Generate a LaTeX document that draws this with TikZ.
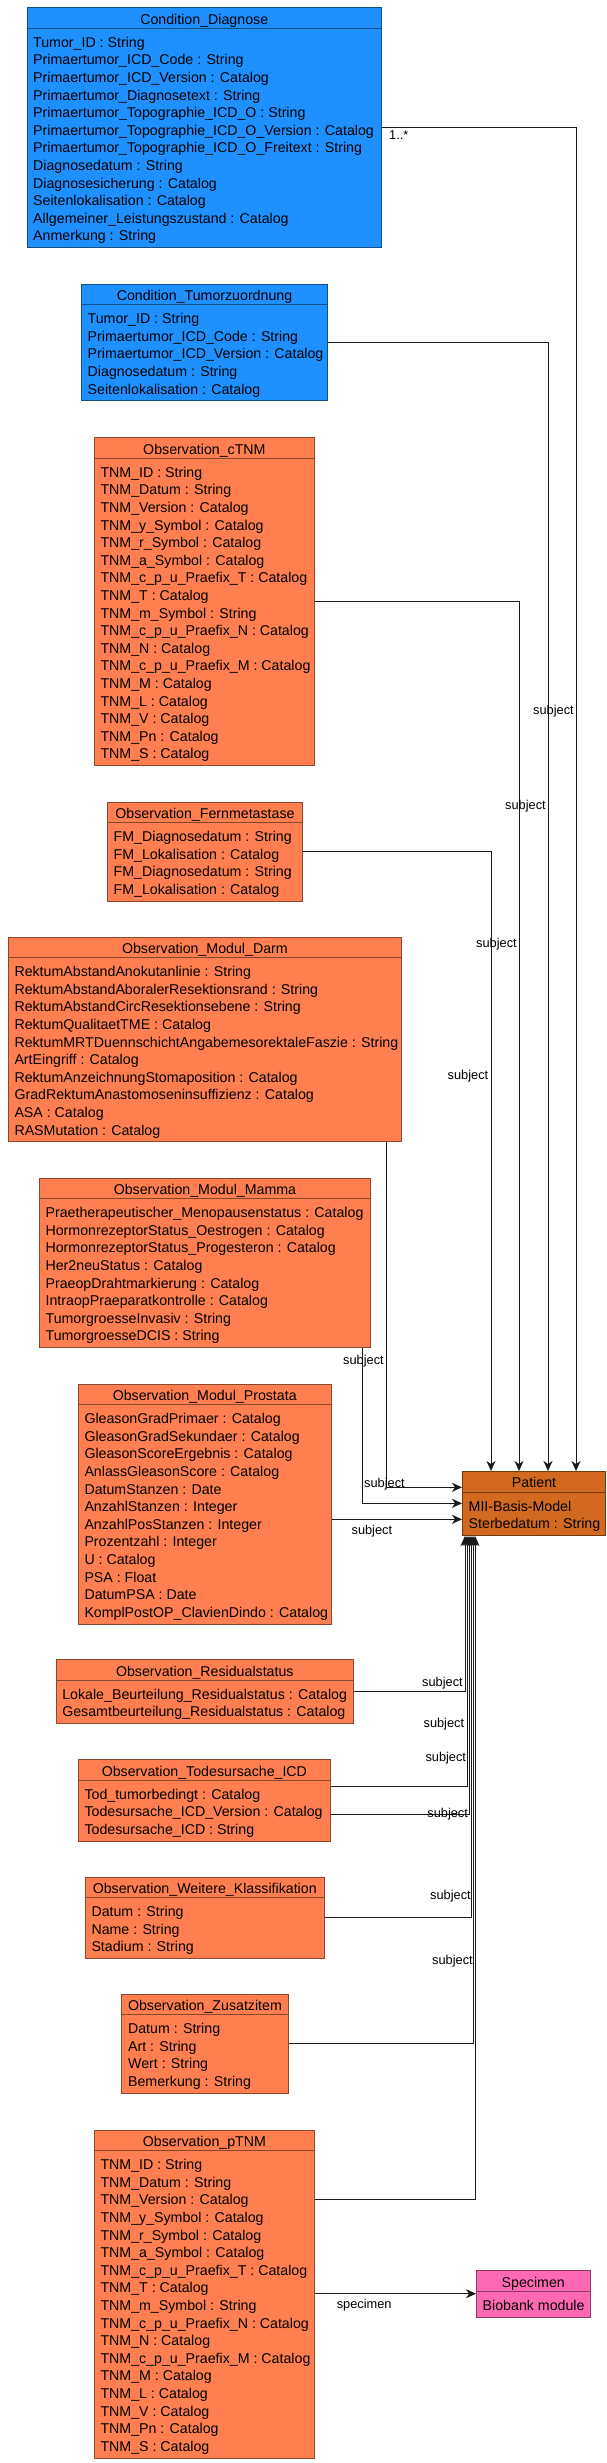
\documentclass[tikz,border=0pt]{standalone}
\usepackage{fontspec}
\setmainfont{Liberation Sans}
\usetikzlibrary{arrows.meta,calc}
\definecolor{cblue}{HTML}{1E90FF}
\definecolor{ccoral}{HTML}{FF7F50}
\definecolor{cchoc}{HTML}{D2691E}
\definecolor{cpink}{HTML}{FF69B4}
\definecolor{lnk}{HTML}{1A1A1A}
\tikzset{
  clsbox/.style={rectangle, inner sep=0pt, line width=1pt},
  clstxt/.style={inner sep=0pt, font=\fontsize{14.2}{17}\selectfont},
  lbl/.style={inner sep=0pt, anchor=base west, font=\fontsize{12.8}{14}\selectfont},
  assoc/.style={draw=lnk, line width=1pt, -{Stealth[length=10pt,width=9pt,inset=3pt]}},
  plainlink/.style={draw=lnk, line width=1pt}
}
\newcommand{\umlbox}[8]{%
 \pgfmathsetmacro{\bh}{46.3+(#6-1)*17.6}%
 \node[clsbox, fill=#2, draw=#2!55!black, minimum width=#5pt, minimum height=\bh pt, anchor=north west] (#1) at (#3,#4) {};
 \draw[draw=#2!55!black, line width=1pt] ([yshift=-21pt]#1.north west) -- ([yshift=-21pt]#1.north east);
 \node[clstxt, anchor=base] (#1-t) at ([yshift=-16.7pt]#1.north) {#7};
 \foreach \attr [count=\i] in {#8} {%
   \pgfmathsetmacro{\yy}{-(40+(\i-1)*17.6)}%
   \node[clstxt, anchor=base west] (#1-\i) at ([xshift=6.5pt, yshift=\yy pt]#1.north west) {\attr};
 }%
}
\begin{document}
\begin{tikzpicture}[x=1pt,y=-1pt]
\fill[white] (0,0) rectangle (607,2463);
\useasboundingbox (0,0) rectangle (607,2463);

\umlbox{diag}{cblue}{26.5}{7.3}{354.5}{12}{Condition\_Diagnose}{Tumor\_ID : String,Primaertumor\_ICD\_Code : String,Primaertumor\_ICD\_Version : Catalog,Primaertumor\_Diagnosetext : String,Primaertumor\_Topographie\_ICD\_O : String,Primaertumor\_Topographie\_ICD\_O\_Version : Catalog,Primaertumor\_Topographie\_ICD\_O\_Freitext : String,Diagnosedatum : String,Diagnosesicherung : Catalog,Seitenlokalisation : Catalog,Allgemeiner\_Leistungszustand : Catalog,Anmerkung : String}

\umlbox{tumor}{cblue}{81}{283.7}{246}{5}{Condition\_Tumorzuordnung}{Tumor\_ID : String,Primaertumor\_ICD\_Code : String,Primaertumor\_ICD\_Version : Catalog,Diagnosedatum : String,Seitenlokalisation : Catalog}

\umlbox{ctnm}{ccoral}{93.8}{437.3}{220.2}{17}{Observation\_cTNM}{TNM\_ID : String,TNM\_Datum : String,TNM\_Version : Catalog,TNM\_y\_Symbol : Catalog,TNM\_r\_Symbol : Catalog,TNM\_a\_Symbol : Catalog,TNM\_c\_p\_u\_Praefix\_T : Catalog,TNM\_T : Catalog,TNM\_m\_Symbol : String,TNM\_c\_p\_u\_Praefix\_N : Catalog,TNM\_N : Catalog,TNM\_c\_p\_u\_Praefix\_M : Catalog,TNM\_M : Catalog,TNM\_L : Catalog,TNM\_V : Catalog,TNM\_Pn : Catalog,TNM\_S : Catalog}

\umlbox{fern}{ccoral}{107}{801.7}{195}{4}{Observation\_Fernmetastase}{FM\_Diagnosedatum : String,FM\_Lokalisation : Catalog,FM\_Diagnosedatum : String,FM\_Lokalisation : Catalog}

\umlbox{darm}{ccoral}{7.8}{936.7}{393.2}{10}{Observation\_Modul\_Darm}{RektumAbstandAnokutanlinie : String,RektumAbstandAboralerResektionsrand : String,RektumAbstandCircResektionsebene : String,RektumQualitaetTME : Catalog,RektumMRTDuennschichtAngabemesorektaleFaszie : String,ArtEingriff : Catalog,RektumAnzeichnungStomaposition : Catalog,GradRektumAnastomoseninsuffizienz : Catalog,ASA : Catalog,RASMutation : Catalog}

\umlbox{mamma}{ccoral}{38.9}{1177.7}{331.1}{8}{Observation\_Modul\_Mamma}{Praetherapeutischer\_Menopausenstatus : Catalog,HormonrezeptorStatus\_Oestrogen : Catalog,HormonrezeptorStatus\_Progesteron : Catalog,Her2neuStatus : Catalog,PraeopDrahtmarkierung : Catalog,IntraopPraeparatkontrolle : Catalog,TumorgroesseInvasiv : String,TumorgroesseDCIS : String}

\umlbox{prost}{ccoral}{77.8}{1383.7}{252.9}{12}{Observation\_Modul\_Prostata}{GleasonGradPrimaer : Catalog,GleasonGradSekundaer : Catalog,GleasonScoreErgebnis : Catalog,AnlassGleasonScore : Catalog,DatumStanzen : Date,AnzahlStanzen : Integer,AnzahlPosStanzen : Integer,Prozentzahl : Integer,U : Catalog,PSA : Float,DatumPSA : Date,KomplPostOP\_ClavienDindo : Catalog}

\umlbox{pat}{cchoc}{462}{1471}{143}{2}{Patient}{MII-Basis-Model,Sterbedatum : String}

\umlbox{resid}{ccoral}{55.6}{1659.3}{297.4}{2}{Observation\_Residualstatus}{Lokale\_Beurteilung\_Residualstatus : Catalog,Gesamtbeurteilung\_Residualstatus : Catalog}

\umlbox{todes}{ccoral}{77.8}{1759.3}{252.2}{3}{Observation\_Todesursache\_ICD}{Tod\_tumorbedingt : Catalog,Todesursache\_ICD\_Version : Catalog,Todesursache\_ICD : String}

\umlbox{weit}{ccoral}{84.8}{1876.7}{238.9}{3}{Observation\_Weitere\_Klassifikation}{Datum : String,Name : String,Stadium : String}

\umlbox{zus}{ccoral}{121.4}{1993.7}{166.1}{4}{Observation\_Zusatzitem}{Datum : String,Art : String,Wert : String,Bemerkung : String}

\umlbox{ptnm}{ccoral}{93.8}{2129.7}{220.2}{17}{Observation\_pTNM}{TNM\_ID : String,TNM\_Datum : String,TNM\_Version : Catalog,TNM\_y\_Symbol : Catalog,TNM\_r\_Symbol : Catalog,TNM\_a\_Symbol : Catalog,TNM\_c\_p\_u\_Praefix\_T : Catalog,TNM\_T : Catalog,TNM\_m\_Symbol : String,TNM\_c\_p\_u\_Praefix\_N : Catalog,TNM\_N : Catalog,TNM\_c\_p\_u\_Praefix\_M : Catalog,TNM\_M : Catalog,TNM\_L : Catalog,TNM\_V : Catalog,TNM\_Pn : Catalog,TNM\_S : Catalog}

\umlbox{spec}{cpink}{476}{2270.3}{113.5}{1}{Specimen}{Biobank module}

% connectors from above
\draw[assoc] (diag.east |- 0,127.3) -| (pat.north -| 576,0);
\draw[assoc] (tumor.east |- 0,342) -| (pat.north -| 548,0);
\draw[assoc] (ctnm.east |- 0,601.7) -| (pat.north -| 519,0);
\draw[assoc] (fern.east |- 0,851.7) -| (pat.north -| 491,0);
% from the left
\draw[assoc] (darm.south -| 386.4,0) |- (pat.west |- 0,1487.3);
\draw[assoc] (mamma.south -| 362,0) |- (pat.west |- 0,1503.3);
\draw[assoc] (prost.east |- 0,1519.3) -- (pat.west |- 0,1519.3);
% from below
\draw[assoc] (resid.east |- 0,1691.3) -| (pat.south -| 465,0);
\draw[assoc] (todes.east |- 0,1786) -| (pat.south -| 467,0);
\draw[assoc] (todes.east |- 0,1814) -| (pat.south -| 469,0);
\draw[assoc] (weit.east |- 0,1917) -| (pat.south -| 471,0);
\draw[assoc] (zus.east |- 0,2043.3) -| (pat.south -| 473,0);
\draw[assoc] (ptnm.east |- 0,2199.3) -| (pat.south -| 475,0);
% specimen
\draw[assoc] (ptnm.east |- 0,2293.7) -- (spec.west |- 0,2293.7);

% labels
\node[lbl] (m1) at (389,139.5) {1..*};
\node[lbl] (s1) at (533,714.5) {subject};
\node[lbl] (s2) at (505,809.5) {subject};
\node[lbl] (s3) at (476,947) {subject};
\node[lbl] (s4) at (447.5,1079.5) {subject};
\node[lbl] (s5) at (343,1364.5) {subject};
\node[lbl] (s6) at (364,1487) {subject};
\node[lbl] (s7) at (351.4,1534) {subject};
\node[lbl] (s8) at (422,1686) {subject};
\node[lbl] (s9) at (423.4,1727.5) {subject};
\node[lbl] (s10) at (425.3,1761) {subject};
\node[lbl] (s11) at (427.2,1817) {subject};
\node[lbl] (s12) at (430,1899.5) {subject};
\node[lbl] (s13) at (432,1964.5) {subject};
\node[lbl] (sp) at (336.6,2308.5) {specimen};
\end{tikzpicture}
\end{document}
